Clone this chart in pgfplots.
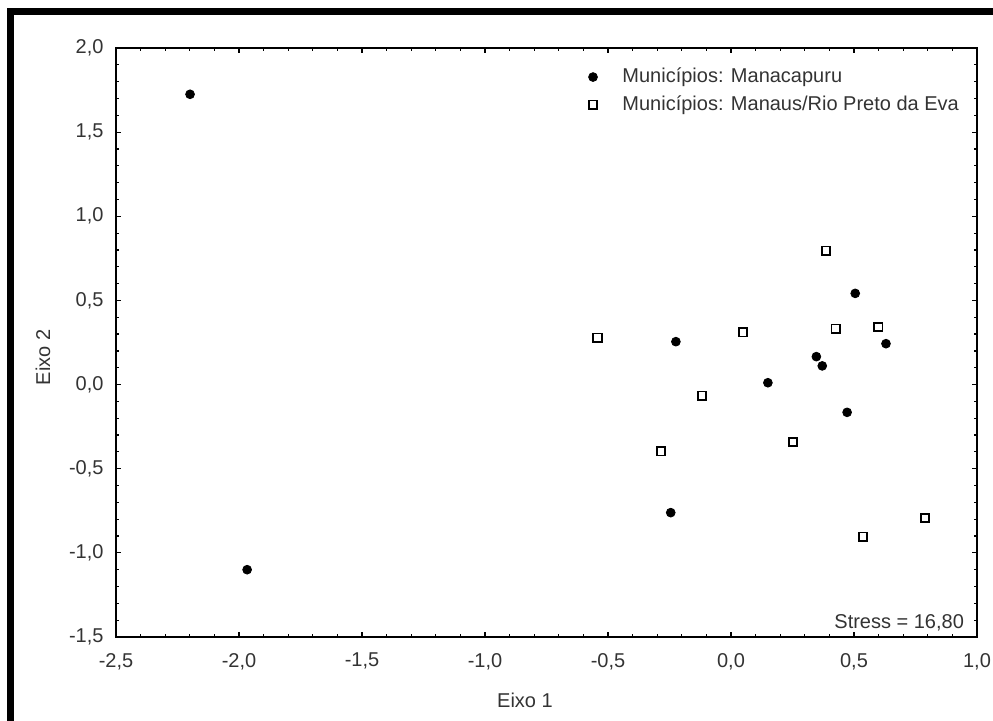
\documentclass[border=0pt]{standalone}
\usepackage{pgfplots}
\pgfplotsset{compat=1.18}
\usepackage{fontspec}
\setmainfont{Liberation Sans}
\definecolor{txt}{HTML}{333333}
\begin{document}
\begin{tikzpicture}
\path[use as bounding box] (0,0) rectangle (496.5pt,360pt);
\begin{scope}
\clip (0,0) rectangle (496.5pt,360pt);
\draw[line width=3.2pt] (5.3pt,-10pt) -- (5.3pt,354.2pt) -- (510pt,354.2pt);
\end{scope}
\begin{axis}[
  at={(58pt,41.5pt)}, anchor=south west,
  width=430.5pt, height=294.5pt, scale only axis,
  xmin=-2.5, xmax=1.0, ymin=-1.5, ymax=2.0,
  xtick={-2.5,-2.0,-1.5,-1.0,-0.5,0.0,0.5,1.0},
  ytick={-1.5,-1.0,-0.5,0.0,0.5,1.0,1.5,2.0},
  minor tick num=4,
  major tick length=2.6pt, minor tick length=1.6pt,
  tick style={black, line width=0.6pt},
  axis line style={line width=0.8pt},
  tick label style={font=\fontsize{10}{12}\selectfont, text=txt},
  /pgf/number format/.cd, fixed, fixed zerofill, precision=1, use comma, assume math mode=true,
  /pgfplots/.cd,
  xticklabel style={yshift=-4.5pt},
  yticklabel style={xshift=-2.7pt},
  xlabel={Eixo 1}, ylabel={Eixo 2},
  label style={font=\fontsize{10}{12}\selectfont, text=txt},
  xlabel style={at={(axis description cs:0.475,-0.107)}, anchor=center},
  ylabel style={at={(axis description cs:-0.0848,0.475)}, anchor=center},
  legend image code/.code={\draw[#1] plot coordinates {(0pt,0pt)};},
  legend cell align=left,
  legend style={at={(axis description cs:0.5415,0.98)}, anchor=north west, draw=none, fill=none,
    font=\fontsize{10}{12}\selectfont, text=txt, row sep=1pt,
    /tikz/every odd column/.append style={column sep=10.5pt}},
]
\addplot[only marks, mark=*, mark size=2.2pt, draw=black, fill=black] coordinates {
  (-2.199,1.725) (-1.967,-1.100) (-0.224,0.255) (0.505,0.542) (0.630,0.243)
  (0.347,0.166) (0.371,0.111) (0.150,0.011) (0.472,-0.165) (-0.245,-0.761)
};
\addlegendentry{Municípios: Manacapuru}
\addplot[only marks, mark=square, mark size=2.1pt, mark options={line width=0.9pt, draw=black, fill=white}] coordinates {
  (-0.543,0.279) (-0.118,-0.066) (0.386,0.796) (0.048,0.311) (0.426,0.332)
  (0.599,0.342) (-0.285,-0.396) (0.252,-0.341) (0.537,-0.904) (0.789,-0.794)
};
\addlegendentry{Municípios: Manaus/Rio Preto da Eva}
\node[anchor=base east, xshift=-3pt, yshift=4.4pt, font=\fontsize{10}{12}\selectfont, text=txt] at (rel axis cs:1,0) {Stress = 16,80};
\end{axis}
\end{tikzpicture}
\end{document}
